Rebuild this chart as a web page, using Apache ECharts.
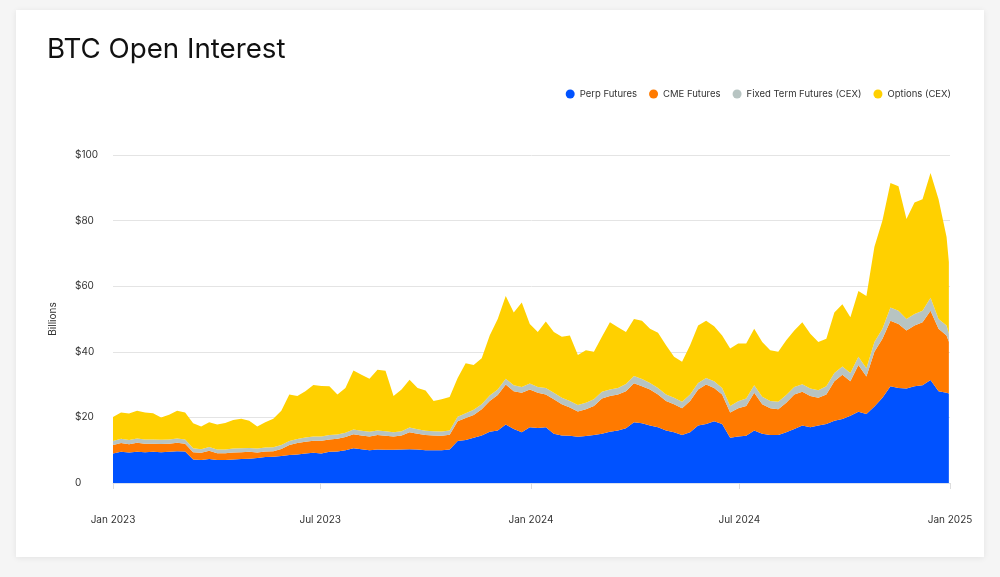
<!DOCTYPE html>
<html>
<head>
<meta charset="utf-8">
<script src="https://cdn.jsdelivr.net/npm/echarts@6/dist/echarts.min.js"></script>
<style>
  html, body { margin: 0; padding: 0; background: #f5f5f5; }
  #card {
    position: absolute; left: 16px; top: 10px; width: 968px; height: 547px;
    background: #fff; box-shadow: 0 1px 6px rgba(0,0,0,0.08);
  }
  #main { position: absolute; left: 0; top: 0; width: 1000px; height: 577px; }
</style>
</head>
<body>
<div id="card"></div>
<div id="main"></div>
<script>
// weekly points from Jan 1 2023, plus the last day of 2024
const startDate = new Date(2023, 0, 1).getTime()
const dayMs = 24 * 3600 * 1000
const dates = []
for (let i = 0; i < 105; i++) dates.push(startDate + i * 7 * dayMs)
dates.push(new Date(2024, 11, 31).getTime())

const tickDates = [
  new Date(2023, 0, 1).getTime(),
  new Date(2023, 6, 1).getTime(),
  new Date(2024, 0, 1).getTime(),
  new Date(2024, 6, 1).getTime(),
  new Date(2025, 0, 1).getTime()
]
const monthNames = ['Jan','Feb','Mar','Apr','May','Jun','Jul','Aug','Sep','Oct','Nov','Dec']

// billions USD
const perpFutures = [
  9.0, 9.5, 9.3, 9.5, 9.4, 9.5, 9.4, 9.5, 9.7, 9.6,
  7.2, 7.0, 7.3, 7.0, 7.0, 7.2, 7.3, 7.4, 7.6, 7.9,
  8.0, 8.2, 8.5, 8.7, 9.0, 9.2, 9.0, 9.5, 9.6, 10.0,
  10.6, 10.3, 10.0, 10.2, 10.1, 10.1, 10.2, 10.3, 10.2, 10.0,
  10.0, 10.0, 10.2, 12.8, 13.1, 13.8, 14.5, 15.6, 16.0, 17.8,
  16.5, 15.5, 17.0, 16.8, 17.0, 15.0, 14.5, 14.4, 14.1, 14.3,
  14.6, 15.0, 15.6, 16.0, 16.7, 18.5, 18.2, 17.5, 17.0, 16.0,
  15.5, 14.6, 15.5, 17.5, 18.0, 18.8, 18.0, 13.8, 14.2, 14.4,
  16.0, 15.0, 14.6, 14.6, 15.5, 16.5, 17.5, 17.0, 17.5, 18.0,
  19.0, 19.5, 20.5, 21.7, 21.0, 23.3, 26.0, 29.5, 29.0, 28.8,
  29.5, 29.8, 31.4, 28.0, 27.5, 27.3
]
const cmeFutures = [
  2.6, 2.7, 2.5, 2.8, 2.6, 2.5, 2.5, 2.5, 2.6, 2.4,
  2.2, 2.2, 2.5, 2.1, 2.1, 2.1, 2.1, 2.1, 1.7, 1.7,
  1.7, 2.2, 3.1, 3.5, 3.6, 3.7, 3.9, 3.8, 3.9, 4.0,
  4.3, 4.2, 4.2, 4.4, 4.3, 4.1, 4.3, 5.2, 4.8, 4.6,
  4.5, 4.4, 4.5, 6.0, 6.7, 6.9, 8.0, 9.4, 10.8, 12.2,
  11.5, 12.0, 11.5, 10.7, 10.0, 10.5, 9.5, 8.6, 7.7, 8.2,
  8.9, 10.8, 10.9, 11.0, 11.3, 11.9, 11.3, 11.0, 10.0, 9.0,
  8.5, 8.2, 9.5, 11.0, 12.0, 10.2, 9.0, 7.7, 8.6, 9.1,
  11.5, 9.0, 8.2, 7.9, 9.0, 10.5, 10.3, 9.5, 8.5, 9.0,
  12.0, 13.5, 10.5, 14.3, 11.5, 16.7, 18.0, 20.0, 19.5, 17.7,
  18.5, 19.2, 21.1, 19.0, 17.5, 15.8
]
const fixedTermFutures = [
  1.2, 1.3, 1.3, 1.3, 1.3, 1.3, 1.3, 1.3, 1.3, 1.3,
  1.2, 1.1, 1.2, 1.1, 1.1, 1.2, 1.2, 1.2, 1.2, 1.2,
  1.2, 1.2, 1.2, 1.2, 1.3, 1.3, 1.3, 1.3, 1.3, 1.3,
  1.4, 1.4, 1.4, 1.4, 1.4, 1.3, 1.3, 1.4, 1.4, 1.3,
  1.3, 1.3, 1.3, 1.4, 1.5, 1.6, 1.5, 1.7, 1.7, 1.8,
  1.8, 1.8, 1.8, 1.8, 2.0, 2.0, 2.0, 2.0, 2.0, 2.0,
  2.0, 2.0, 2.0, 2.0, 2.2, 2.2, 2.2, 2.0, 2.0, 2.0,
  2.0, 2.0, 2.0, 2.0, 2.0, 2.0, 2.0, 2.0, 2.1, 2.3,
  2.3, 2.3, 2.2, 2.3, 2.3, 2.3, 2.3, 2.3, 2.3, 2.5,
  2.5, 2.5, 2.5, 2.5, 2.5, 3.0, 3.0, 4.0, 4.0, 3.5,
  3.5, 3.5, 4.0, 3.0, 3.0, 2.5
]
const optionsCex = [
  7.3, 8.0, 8.1, 8.4, 8.2, 8.0, 6.8, 7.5, 8.4, 8.2,
  7.6, 6.9, 7.5, 7.6, 8.1, 8.7, 9.0, 8.3, 6.7, 7.7,
  8.7, 10.4, 14.2, 13.1, 14.1, 15.7, 15.4, 14.9, 12.2, 13.7,
  18.0, 17.1, 16.2, 18.5, 18.4, 11.0, 12.7, 14.6, 12.6, 12.3,
  9.2, 9.8, 10.2, 11.8, 15.2, 13.7, 14.0, 18.3, 21.5, 25.2,
  22.2, 25.7, 18.2, 16.7, 20.2, 18.5, 18.6, 20.0, 15.2, 16.0,
  14.5, 16.8, 20.5, 18.5, 15.8, 17.4, 17.8, 16.5, 16.8, 15.0,
  12.5, 12.2, 15.0, 17.5, 17.5, 16.8, 16.0, 17.5, 17.6, 16.7,
  17.2, 16.7, 15.5, 15.2, 16.7, 17.2, 18.9, 16.7, 14.7, 14.5,
  18.5, 19.0, 17.0, 20.0, 22.0, 29.0, 33.0, 38.0, 38.0, 30.5,
  34.0, 34.0, 38.0, 36.5, 27.0, 21.8
]

const seriesNames = ['Perp Futures', 'CME Futures', 'Fixed Term Futures (CEX)', 'Options (CEX)']
const seriesColors = ['#0052ff', '#ff7a00', '#b7c4c2', '#ffd000']
const seriesValues = [perpFutures, cmeFutures, fixedTermFutures, optionsCex]

const fontFamily = 'Inter, "Noto Sans", sans-serif'
const axisMin = tickDates[0]
const axisMax = tickDates[tickDates.length - 1]

let chart = echarts.init(document.getElementById('main'))
chart.setOption({
  animation: false,
  backgroundColor: 'transparent',
  title: {
    text: 'BTC Open Interest',
    left: 42, top: 31,
    textStyle: { fontFamily: fontFamily, fontSize: 27.7, fontWeight: 400, color: '#111' }
  },
  legend: {
    right: 44, top: 84,
    icon: 'circle', itemWidth: 9, itemHeight: 9, itemGap: 12,
    textStyle: { fontFamily: fontFamily, fontSize: 9.5, color: '#333' },
    data: seriesNames
  },
  grid: { left: 113, right: 50, top: 155, bottom: 94 },
  xAxis: [
    {
      // data axis
      type: 'time', min: axisMin, max: axisMax,
      axisLine: { show: true, lineStyle: { color: '#d8e0f0', width: 1 } },
      axisTick: { show: false },
      axisLabel: { show: false },
      splitLine: { show: false }
    },
    {
      // Jan / Jul ticks and labels
      type: 'value', min: axisMin, max: axisMax, position: 'bottom',
      axisLine: { show: false },
      splitLine: { show: false },
      axisTick: { show: true, customValues: tickDates, length: 6, lineStyle: { color: '#dddddd' } },
      axisLabel: {
        customValues: tickDates,
        margin: 32,
        fontFamily: fontFamily, fontSize: 10, color: '#333',
        formatter: v => { const d = new Date(v); return monthNames[d.getMonth()] + ' ' + d.getFullYear() }
      }
    }
  ],
  yAxis: {
    type: 'value', min: 0, max: 100, interval: 20,
    name: 'Billions', nameLocation: 'middle', nameGap: 55, nameRotate: 90,
    nameTextStyle: { fontFamily: fontFamily, fontSize: 10, color: '#333' },
    axisLine: { show: false }, axisTick: { show: false },
    splitLine: { lineStyle: { color: '#e4e4e4', width: 1 } },
    axisLabel: {
      margin: 38, align: 'left',
      fontFamily: fontFamily, fontSize: 10, color: '#333',
      formatter: v => v === 0 ? '0' : '$' + v
    }
  },
  series: seriesNames.map((name, i) => ({
    name: name,
    type: 'line',
    xAxisIndex: 0,
    stack: 'oi',
    symbol: 'none',
    showSymbol: false,
    lineStyle: { width: 0 },
    itemStyle: { color: seriesColors[i] },
    areaStyle: { color: seriesColors[i], opacity: 1 },
    data: dates.map((d, j) => [d, seriesValues[i][j]])
  }))
})
</script>
</body>
</html>
